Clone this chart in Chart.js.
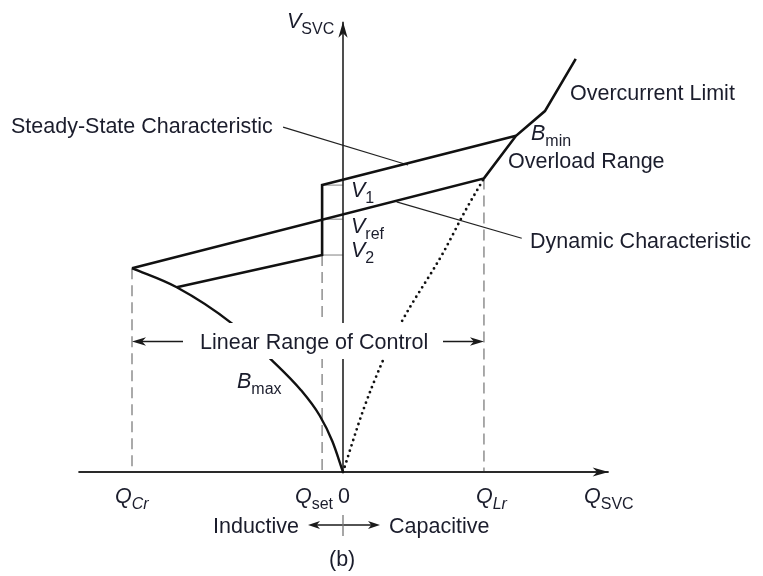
<!DOCTYPE html>
<html>
<head>
<meta charset="utf-8">
<title>SVC V-Q characteristic</title>
<script src="https://cdn.jsdelivr.net/npm/chart.js@4.4.1/dist/chart.umd.min.js"></script>
<style>
  html, body { margin: 0; padding: 0; background: #fff; }
  canvas { display: block; }
</style>
</head>
<body>
<canvas id="svc-chart" width="763" height="576"></canvas>
<script>
// Q in units of the capacitive rating (Q_Cr = -1), V in per unit of Vref
const qMarks = [-1.0, -0.099, 0.668];          // Q_Cr, Q_set, Q_Lr
const qMarkTops = [0.790, 0.841, 1.138];       // where each dashed drop line starts
const vLevels = [1.112, 0.980, 0.841];         // V1, Vref, V2

const dynamicChar = [[-1.0, 0.790], [0.668, 1.138]];
const overloadRange = [[0.668, 1.138], [0.820, 1.303], [0.957, 1.399]];
const overcurrentLimit = [[0.957, 1.399], [1.103, 1.601]];
const steadyChar = [[-0.788, 0.716], [-0.099, 0.841], [-0.099, 1.112], [0.820, 1.303]];
const bMaxCurve = [[-1.0, 0.790], [-0.788, 0.716], [-0.527, 0.576], [-0.338, 0.434],
                   [-0.200, 0.318], [-0.110, 0.218], [-0.050, 0.118], [0, 0]];
const bMinDotted = [[0, 0], [0.096, 0.240], [0.183, 0.420], [0.270, 0.570],
                    [0.475, 0.850], [0.578, 1.010], [0.668, 1.138]];
const leaderSteady = [[-0.284, 1.337], [0.308, 1.190]];
const leaderDynamic = [[0.254, 1.047], [0.847, 0.906]];
const axisQ = [-1.254, 1.259];
const axisV = [0, 1.745];

// layout: where the origin sits and how many pixels per unit
const ORIGIN = { x: 343, y: 472 };
const PX_Q = 211, PX_V = 258;
const X_MIN = -1.3, X_MAX = 1.3, Y_MIN = -0.4, Y_MAX = 1.8;
const W = 763, H = 576;

const FONT = '"Liberation Sans", Arial, Helvetica, sans-serif';
const INK = '#1b1d2c';

const pts = arr => arr.map(([x, y]) => ({ x, y }));

function line(data, opts) {
    return Object.assign({
        data: pts(data),
        showLine: true,
        pointRadius: 0,
        borderColor: '#111',
        borderWidth: 2.6,
        borderJoinStyle: 'miter',
        tension: 0,
        fill: false,
        clip: false
    }, opts);
}

const datasets = [
    line([...dynamicChar, ...overloadRange.slice(1), ...overcurrentLimit.slice(1)]),
    line(steadyChar),
    line(bMaxCurve, { cubicInterpolationMode: 'monotone', borderWidth: 2.4 }),
    line(bMinDotted, { cubicInterpolationMode: 'monotone', borderWidth: 2.8,
                       borderDash: [0, 5.6], borderCapStyle: 'round' }),
    line(leaderSteady, { borderColor: '#222', borderWidth: 1.2 }),
    line(leaderDynamic, { borderColor: '#222', borderWidth: 1.2 }),
    line([[axisQ[0], 0], [axisQ[1], 0]], { borderColor: '#2a2a2a', borderWidth: 2.2 }),
    line([[0, axisV[0]], [0, axisV[1]]], { borderColor: '#222', borderWidth: 1.6 })
];

// dashed drop lines to the Q axis
qMarks.forEach((q, i) => {
    datasets.push(line([[q, qMarkTops[i]], [q, 0]],
        { borderColor: '#8f8f8f', borderWidth: 1.5, borderDash: [11, 6] }));
});

// short level ticks between Q_set and the V axis
vLevels.forEach(v => {
    datasets.push(line([[qMarks[1], v], [0, v]], { borderColor: '#808080', borderWidth: 1 }));
});

function arrowHead(ctx, tx, ty, angle, len, half) {
    ctx.save();
    ctx.translate(tx, ty);
    ctx.rotate(angle);
    ctx.beginPath();
    ctx.moveTo(0, 0);
    ctx.lineTo(-len, -half);
    ctx.lineTo(-len * 0.72, 0);
    ctx.lineTo(-len, half);
    ctx.closePath();
    ctx.fill();
    ctx.restore();
}

function richText(ctx, x, y, parts) {
    let cx = x;
    parts.forEach(p => {
        const size = p.sub ? 16 : 21.5;
        ctx.font = `${p.it ? 'italic ' : ''}${size}px ${FONT}`;
        ctx.fillText(p.t, cx, y + (p.sub ? 6 : 0));
        cx += ctx.measureText(p.t).width;
    });
    return cx - x;
}

const labels = [
    { x: 287, y: 28,  parts: [{ t: 'V', it: 1 }, { t: 'SVC', sub: 1 }] },
    { x: 11,  y: 133, parts: [{ t: 'Steady-State Characteristic' }] },
    { x: 570, y: 100, parts: [{ t: 'Overcurrent Limit' }] },
    { x: 531, y: 140, parts: [{ t: 'B', it: 1 }, { t: 'min', sub: 1 }] },
    { x: 508, y: 168, parts: [{ t: 'Overload Range' }] },
    { x: 351, y: 197, parts: [{ t: 'V', it: 1 }, { t: '1', sub: 1 }] },
    { x: 351, y: 233, parts: [{ t: 'V', it: 1 }, { t: 'ref', sub: 1 }] },
    { x: 351, y: 257, parts: [{ t: 'V', it: 1 }, { t: '2', sub: 1 }] },
    { x: 530, y: 248, parts: [{ t: 'Dynamic Characteristic' }] },
    { x: 237, y: 388, parts: [{ t: 'B', it: 1 }, { t: 'max', sub: 1 }] },
    { x: 115, y: 503, parts: [{ t: 'Q', it: 1 }, { t: 'Cr', it: 1, sub: 1 }] },
    { x: 295, y: 503, parts: [{ t: 'Q', it: 1 }, { t: 'set', sub: 1 }] },
    { x: 338, y: 503, parts: [{ t: '0' }] },
    { x: 476, y: 503, parts: [{ t: 'Q', it: 1 }, { t: 'Lr', it: 1, sub: 1 }] },
    { x: 584, y: 503, parts: [{ t: 'Q', it: 1 }, { t: 'SVC', sub: 1 }] },
    { x: 213, y: 533, parts: [{ t: 'Inductive' }] },
    { x: 389, y: 533, parts: [{ t: 'Capacitive' }] },
    { x: 329, y: 566, parts: [{ t: '(b)' }] }
];

const annotations = {
    id: 'svcAnnotations',
    afterDatasetsDraw(chart) {
        const { ctx, scales: { x, y } } = chart;
        const x0 = x.getPixelForValue(0);
        ctx.save();
        ctx.strokeStyle = '#1a1a1a';

        // axis arrowheads
        ctx.fillStyle = '#1a1a1a';
        arrowHead(ctx, x.getPixelForValue(axisQ[1]), y.getPixelForValue(0), 0, 16, 4.6);
        arrowHead(ctx, x0, y.getPixelForValue(axisV[1]), -Math.PI / 2, 16, 4.6);

        // "Linear Range of Control" sits on a white patch over the lines
        const rangeText = 'Linear Range of Control';
        const rangeY = 349;
        ctx.font = `21.5px ${FONT}`;
        const rw = ctx.measureText(rangeText).width;
        const rx = 200;
        ctx.fillStyle = '#fff';
        ctx.fillRect(rx - 7, rangeY - 26, rw + 14, 36);

        ctx.fillStyle = '#1a1a1a';
        ctx.lineWidth = 1.4;
        const ay = rangeY - 7.5;
        const leftTip = x.getPixelForValue(qMarks[0]);
        const rightTip = x.getPixelForValue(qMarks[2]);
        ctx.beginPath();
        ctx.moveTo(leftTip + 6, ay); ctx.lineTo(183, ay);
        ctx.moveTo(443, ay); ctx.lineTo(rightTip - 6, ay);
        ctx.stroke();
        arrowHead(ctx, leftTip, ay, Math.PI, 14, 4.2);
        arrowHead(ctx, rightTip, ay, 0, 14, 4.2);

        // inductive / capacitive direction arrows
        const dy = 525;
        ctx.lineWidth = 1.3;
        ctx.beginPath();
        ctx.moveTo(314, dy); ctx.lineTo(374, dy);
        ctx.stroke();
        ctx.strokeStyle = '#777';
        ctx.beginPath();
        ctx.moveTo(x0, 515); ctx.lineTo(x0, 536);
        ctx.stroke();
        arrowHead(ctx, 308, dy, Math.PI, 12, 4);
        arrowHead(ctx, 380, dy, 0, 12, 4);

        ctx.fillStyle = INK;
        ctx.textBaseline = 'alphabetic';
        labels.forEach(l => richText(ctx, l.x, l.y, l.parts));
        richText(ctx, rx, rangeY, [{ t: rangeText }]);
        ctx.restore();
    }
};

new Chart(document.getElementById('svc-chart'), {
    type: 'scatter',
    data: { datasets },
    options: {
        responsive: false,
        animation: false,
        devicePixelRatio: 1,
        layout: {
            padding: {
                left: ORIGIN.x + X_MIN * PX_Q,
                right: W - (ORIGIN.x + X_MAX * PX_Q),
                top: ORIGIN.y - Y_MAX * PX_V,
                bottom: H - (ORIGIN.y - Y_MIN * PX_V)
            }
        },
        scales: {
            x: { type: 'linear', min: X_MIN, max: X_MAX, display: false },
            y: { type: 'linear', min: Y_MIN, max: Y_MAX, display: false }
        },
        plugins: {
            legend: { display: false },
            tooltip: { enabled: false }
        }
    },
    plugins: [annotations]
});
</script>
</body>
</html>
